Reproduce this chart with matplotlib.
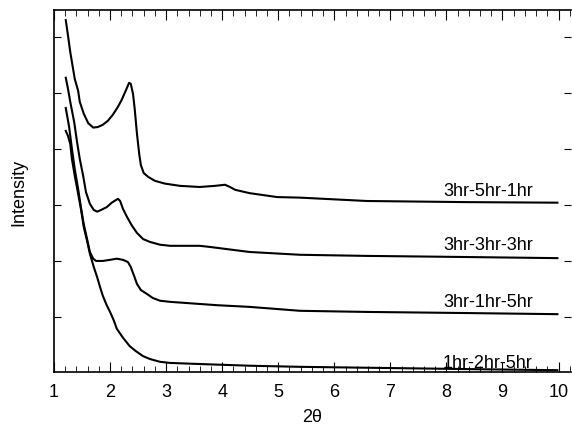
import matplotlib
matplotlib.use("Agg")
import matplotlib.pyplot as plt
from matplotlib.ticker import MultipleLocator

plt.rcParams['font.family'] = ['Liberation Sans', 'DejaVu Sans']

# XRD patterns, stacked with offsets
two_theta_1 = [1.21, 1.25, 1.29, 1.34, 1.37, 1.43, 1.46, 1.53, 1.61, 1.70, 1.78, 1.87,
               1.96, 2.05, 2.14, 2.21, 2.28, 2.34, 2.37, 2.41, 2.44, 2.48, 2.52, 2.55,
               2.60, 2.68, 2.80, 2.98, 3.25, 3.60, 3.87, 4.05, 4.14, 4.23, 4.49, 4.98,
               5.39, 6.58, 8.36, 9.98]
intensity_1 = [6.30, 6.02, 5.73, 5.43, 5.25, 5.04, 4.84, 4.63, 4.46, 4.38, 4.39, 4.43,
               4.50, 4.61, 4.75, 4.88, 5.04, 5.18, 5.16, 4.98, 4.71, 4.27, 3.91, 3.71,
               3.57, 3.50, 3.43, 3.38, 3.34, 3.32, 3.34, 3.36, 3.32, 3.27, 3.21, 3.14,
               3.13, 3.07, 3.05, 3.04]

two_theta_2 = [1.21, 1.25, 1.29, 1.36, 1.41, 1.46, 1.52, 1.57, 1.64, 1.71, 1.77, 1.84,
               1.94, 2.03, 2.11, 2.14, 2.18, 2.23, 2.30, 2.39, 2.48, 2.59, 2.71, 2.89,
               3.07, 3.60, 3.78, 4.49, 5.39, 6.58, 8.36, 9.98]
intensity_2 = [5.27, 5.07, 4.84, 4.48, 4.13, 3.82, 3.52, 3.23, 3.02, 2.91, 2.88, 2.91,
               2.96, 3.04, 3.09, 3.11, 3.07, 2.93, 2.79, 2.63, 2.50, 2.39, 2.34, 2.29,
               2.27, 2.27, 2.25, 2.16, 2.11, 2.09, 2.07, 2.05]

two_theta_3 = [1.21, 1.27, 1.32, 1.37, 1.43, 1.48, 1.53, 1.59, 1.64, 1.70, 1.75, 1.87,
               2.00, 2.12, 2.23, 2.32, 2.37, 2.43, 2.48, 2.55, 2.66, 2.76, 2.89, 3.07,
               3.91, 4.49, 5.39, 6.58, 8.36, 9.98]
intensity_3 = [4.73, 4.39, 4.00, 3.64, 3.29, 2.96, 2.66, 2.39, 2.16, 2.04, 2.00, 2.00,
               2.02, 2.04, 2.02, 1.98, 1.89, 1.73, 1.59, 1.48, 1.41, 1.34, 1.29, 1.27,
               1.21, 1.18, 1.11, 1.09, 1.07, 1.05]

two_theta_4 = [1.21, 1.25, 1.29, 1.32, 1.37, 1.43, 1.48, 1.53, 1.59, 1.64, 1.71, 1.77,
               1.82, 1.87, 1.94, 2.00, 2.07, 2.12, 2.23, 2.35, 2.46, 2.59, 2.71, 2.89,
               3.07, 3.60, 4.49, 5.39, 8.36, 9.98]
intensity_4 = [4.32, 4.23, 4.09, 3.82, 3.52, 3.20, 2.93, 2.61, 2.36, 2.13, 1.89, 1.71,
               1.54, 1.38, 1.21, 1.09, 0.93, 0.79, 0.63, 0.48, 0.39, 0.30, 0.25, 0.20,
               0.18, 0.16, 0.13, 0.11, 0.07, 0.05]

labels = ["3hr-5hr-1hr", "3hr-3hr-3hr", "3hr-1hr-5hr", "1hr-2hr-5hr"]
label_x = 9.54
label_y = [3.18, 2.21, 1.20, 0.11]

fig = plt.figure(figsize=(5.72, 4.31), dpi=100)
ax = fig.add_axes([0.0944, 0.1346, 0.9036, 0.84])

for xs, ys in [(two_theta_1, intensity_1), (two_theta_2, intensity_2),
               (two_theta_3, intensity_3), (two_theta_4, intensity_4)]:
    ax.plot(xs, ys, color="black", linewidth=1.5)

for text, y in zip(labels, label_y):
    ax.text(label_x, y, text, ha="right", va="baseline", fontsize=13)

ax.set_xlim(1, 10.22)
ax.set_ylim(0.018, 6.48)
ax.xaxis.set_major_locator(MultipleLocator(1))
ax.xaxis.set_minor_locator(MultipleLocator(0.2))
ax.set_yticks([1, 2, 3, 4, 5, 6])
ax.set_yticklabels([])
ax.spines['right'].set_visible(False)
ax.tick_params(axis='x', which='both', direction='in', top=True, labelsize=13, pad=8)
ax.tick_params(axis='x', which='major', length=7)
ax.tick_params(axis='x', which='minor', length=4)
ax.tick_params(axis='y', direction='in', right=True, length=5)
for s in ax.spines.values():
    s.set_linewidth(1.2)

ax.set_xlabel("2θ", fontsize=13, labelpad=6)
ax.set_ylabel("Intensity", fontsize=13, labelpad=16)

fig.savefig("out.png", dpi=100)
